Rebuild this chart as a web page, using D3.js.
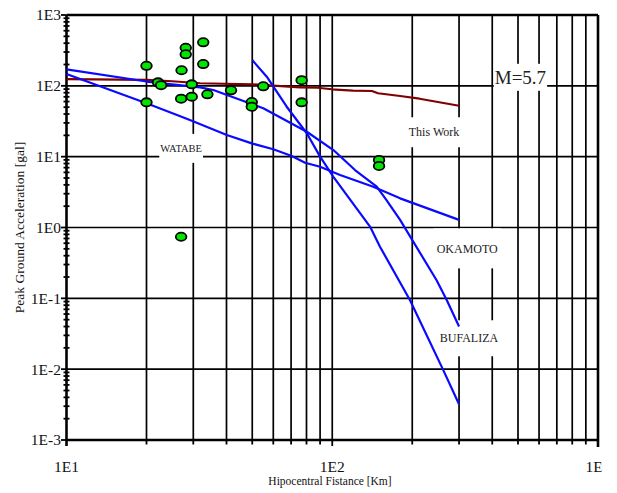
<!DOCTYPE html>
<html>
<head>
<meta charset="utf-8">
<script src="https://cdn.jsdelivr.net/npm/d3@7"></script>
<style>
  html, body { margin: 0; padding: 0; background: #fff; }
  svg { display: block; }
</style>
</head>
<body>
<svg id="chart" width="617" height="493"></svg>
<script>
// Recorded peak ground accelerations: hypocentral distance [km] and PGA [gal]
const obsDistance = [20, 20, 22.1, 22.7, 28.1, 28.1, 27.1, 27, 29.6, 29.6, 32.7, 32.7, 33.9, 41.6, 49.8, 49.8, 55, 76.7, 76.7, 150, 150, 27];
const obsPGA      = [192, 58.5, 112, 102, 345, 279, 166, 65.8, 105, 70.3, 412, 203, 76, 86.5, 59, 50.7, 98.5, 120, 58.5, 9.0, 7.4, 0.74];

// Attenuation relation proposed in this work
const thisWorkDist = [10, 20, 25, 31.8, 50, 60, 75.7, 88, 99.6, 119.6, 141, 148.7, 180, 213, 300];
const thisWorkPGA  = [124, 121, 116, 108.7, 105, 100.4, 95.3, 94, 89.4, 85.4, 84.6, 78.5, 71.8, 65.8, 52.4];

// Reference attenuation curves
const curveADist = [10, 20, 31.8, 35.7, 55, 80.2, 101, 121.8, 147, 160, 180, 247, 269.6, 300];
const curveAPGA  = [171, 115, 95.3, 87.3, 48.2, 22.5, 12.4, 6.48, 3.77, 2.44, 1.28, 0.18, 0.0946, 0.04];

const curveBDist = [10, 20, 27.1, 29.6, 40.1, 49.8, 60, 70.4, 79, 90, 107, 142.7, 180, 300];
const curveBPGA  = [147, 56.7, 36.6, 32.2, 20.2, 15.4, 12.7, 10.2, 8.2, 7.2, 5.5, 3.77, 2.58, 1.28];

const curveCDist = [50, 56.7, 67.4, 80.2, 90, 101, 138.7, 151.2, 196, 261.7, 300];
const curveCPGA  = [231, 134.5, 50.7, 21.4, 10, 5.2, 1.03, 0.536, 0.0946, 0.0097, 0.0032];

// Axis ticks
const xTickValues = [10, 100, 1000];
const xTickLabels = ["1E1", "1E2", "1E3"];
const yTickValues = [1e3, 1e2, 1e1, 1e0, 1e-1, 1e-2, 1e-3];
const yTickLabels = ["1E3", "1E2", "1E1", "1E0", "1E-1", "1E-2", "1E-3"];

// Annotations
const noteText = ["WATABE", "This Work", "OKAMOTO", "BUFALIZA", "M=5.7"];
const noteDist = [27, 241.5, 322, 327, 510.7];
const notePGA  = [13.1, 22.1, 0.508, 0.0273, 132];

// ---------------------------------------------------------------
const svg = d3.select("#chart");
const plotLeft = 66.5, plotRight = 598, plotTop = 15, plotBottom = 440;
const serif = "'Liberation Serif', 'Times New Roman', serif";

const x = d3.scaleLog().domain([10, 1000]).range([plotLeft, plotRight]);
const y = d3.scaleLog().domain([1e-3, 1e3]).range([plotBottom, plotTop]);

svg.append("rect").attr("width", 617).attr("height", 493).attr("fill", "#fff");

// every 1..9 multiple inside each decade
function decadeSteps(lo, hi) {
  const out = [];
  for (let e = lo; e < hi; e++) for (let m = 1; m <= 9; m++) out.push(m * Math.pow(10, e));
  out.push(Math.pow(10, hi));
  return out;
}
const xAll = decadeSteps(1, 3);
const yAll = decadeSteps(-3, 3);
const isMajor = v => Math.abs(Math.log10(v) - Math.round(Math.log10(v))) < 1e-9;

const grid = svg.append("g").attr("stroke", "#000").attr("stroke-width", 1.7);
grid.selectAll("line.v").data(xAll.filter(v => v > 10 && v < 1000)).join("line")
  .attr("x1", d => x(d)).attr("x2", d => x(d)).attr("y1", plotTop).attr("y2", plotBottom);
grid.selectAll("line.h").data(yTickValues.filter(v => v > 1e-3 && v < 1e3)).join("line")
  .attr("x1", plotLeft).attr("x2", plotRight).attr("y1", d => y(d)).attr("y2", d => y(d));

// white boxes behind the annotations (they break the grid)
const noteStyle = [
  { size: 10.5, padX: 1, padY: 9 },
  { size: 12,   padX: 1, padY: 8 },
  { size: 12,   padX: 3, padY: 13 },
  { size: 12,   padX: 3, padY: 11 },
  { size: 19,   padX: 1, padY: 3 }
];
const notes = svg.append("g");
const noteGroups = notes.selectAll("g").data(noteText).join("g");
noteGroups.each(function(t, i) {
  const g = d3.select(this);
  const cx = x(noteDist[i]), cy = y(notePGA[i]);
  const box = g.append("rect").attr("fill", "#fff");
  const txt = g.append("text")
    .attr("x", cx).attr("y", cy).attr("dy", "0.35em")
    .attr("text-anchor", "middle")
    .attr("font-family", serif)
    .attr("font-size", noteStyle[i].size)
    .attr("fill", "#222")
    .text(t);
  const bb = txt.node().getBBox();
  box.attr("x", bb.x - noteStyle[i].padX).attr("width", bb.width + 2 * noteStyle[i].padX)
     .attr("y", cy - bb.height / 2 - noteStyle[i].padY).attr("height", bb.height + 2 * noteStyle[i].padY);
});

// frame
const frame = svg.append("g").attr("stroke", "#000").attr("stroke-width", 2.6).attr("fill", "none");
frame.append("line").attr("x1", plotLeft).attr("x2", plotRight).attr("y1", plotTop).attr("y2", plotTop);
frame.append("line").attr("x1", plotLeft).attr("x2", plotRight).attr("y1", plotBottom).attr("y2", plotBottom);
frame.append("line").attr("x1", plotLeft).attr("x2", plotLeft).attr("y1", plotTop).attr("y2", plotBottom + 6);
frame.append("line").attr("x1", plotRight).attr("x2", plotRight).attr("y1", plotTop).attr("y2", plotBottom + 7);

// x ticks below the axis
svg.append("g").attr("stroke", "#000").attr("stroke-width", 1.8)
  .selectAll("line").data(xAll.filter(v => v > 10 && v < 1000)).join("line")
  .attr("x1", d => x(d)).attr("x2", d => x(d))
  .attr("y1", plotBottom).attr("y2", d => plotBottom + (isMajor(d) ? 6 : 4.5));

// y ticks: majors to the left, minors as small crosses
const yt = svg.append("g").attr("stroke", "#000").attr("stroke-width", 1.8);
yt.selectAll("line.maj").data(yTickValues).join("line")
  .attr("x1", plotLeft - 5.5).attr("x2", plotLeft).attr("y1", d => y(d)).attr("y2", d => y(d));
yt.selectAll("line.min").data(yAll.filter(v => !isMajor(v))).join("line")
  .attr("x1", plotLeft - 3).attr("x2", plotLeft + 3).attr("y1", d => y(d)).attr("y2", d => y(d));

// tick labels
svg.append("g").attr("font-family", serif).attr("font-size", 15.5).attr("fill", "#111")
  .selectAll("text").data(yTickValues).join("text")
  .attr("x", plotLeft - 5.5).attr("y", d => y(d)).attr("dy", "0.35em")
  .attr("text-anchor", "end")
  .text((d, i) => yTickLabels[i]);

svg.append("clipPath").attr("id", "xlabClip")
  .append("rect").attr("x", 0).attr("y", 440).attr("width", 601.5).attr("height", 53);
svg.append("g").attr("clip-path", "url(#xlabClip)")
  .attr("font-family", serif).attr("font-size", 15.5).attr("fill", "#111")
  .selectAll("text").data(xTickValues).join("text")
  .attr("x", d => x(d)).attr("y", 472)
  .attr("text-anchor", "middle")
  .text((d, i) => xTickLabels[i]);

// axis titles
svg.append("text")
  .attr("x", 330).attr("y", 485)
  .attr("text-anchor", "middle")
  .attr("font-family", serif).attr("font-size", 11.5).attr("fill", "#111")
  .text("Hipocentral Fistance [Km]");
svg.append("text")
  .attr("transform", "translate(24," + ((plotTop + plotBottom) / 2) + ") rotate(-90)")
  .attr("text-anchor", "middle")
  .attr("font-family", serif).attr("font-size", 13.5).attr("fill", "#111")
  .text("Peak Ground Acceleration [gal]");

// curves
const line = d3.line().x(d => x(d[0])).y(d => y(d[1]));
const curves = [
  { dist: thisWorkDist, pga: thisWorkPGA, color: "#800000" },
  { dist: curveADist, pga: curveAPGA, color: "#0a0aff" },
  { dist: curveBDist, pga: curveBPGA, color: "#0a0aff" },
  { dist: curveCDist, pga: curveCPGA, color: "#0a0aff" }
];
svg.append("g").selectAll("path").data(curves).join("path")
  .attr("d", c => line(d3.zip(c.dist, c.pga)))
  .attr("fill", "none")
  .attr("stroke", c => c.color)
  .attr("stroke-width", 2.2)
  .attr("stroke-linejoin", "round");

// observations
svg.append("g").selectAll("ellipse").data(d3.zip(obsDistance, obsPGA)).join("ellipse")
  .attr("cx", d => x(d[0])).attr("cy", d => y(d[1]))
  .attr("rx", 5.3).attr("ry", 4.1)
  .attr("fill", "#00e600")
  .attr("stroke", "#000")
  .attr("stroke-width", 1.8);
</script>
</body>
</html>
